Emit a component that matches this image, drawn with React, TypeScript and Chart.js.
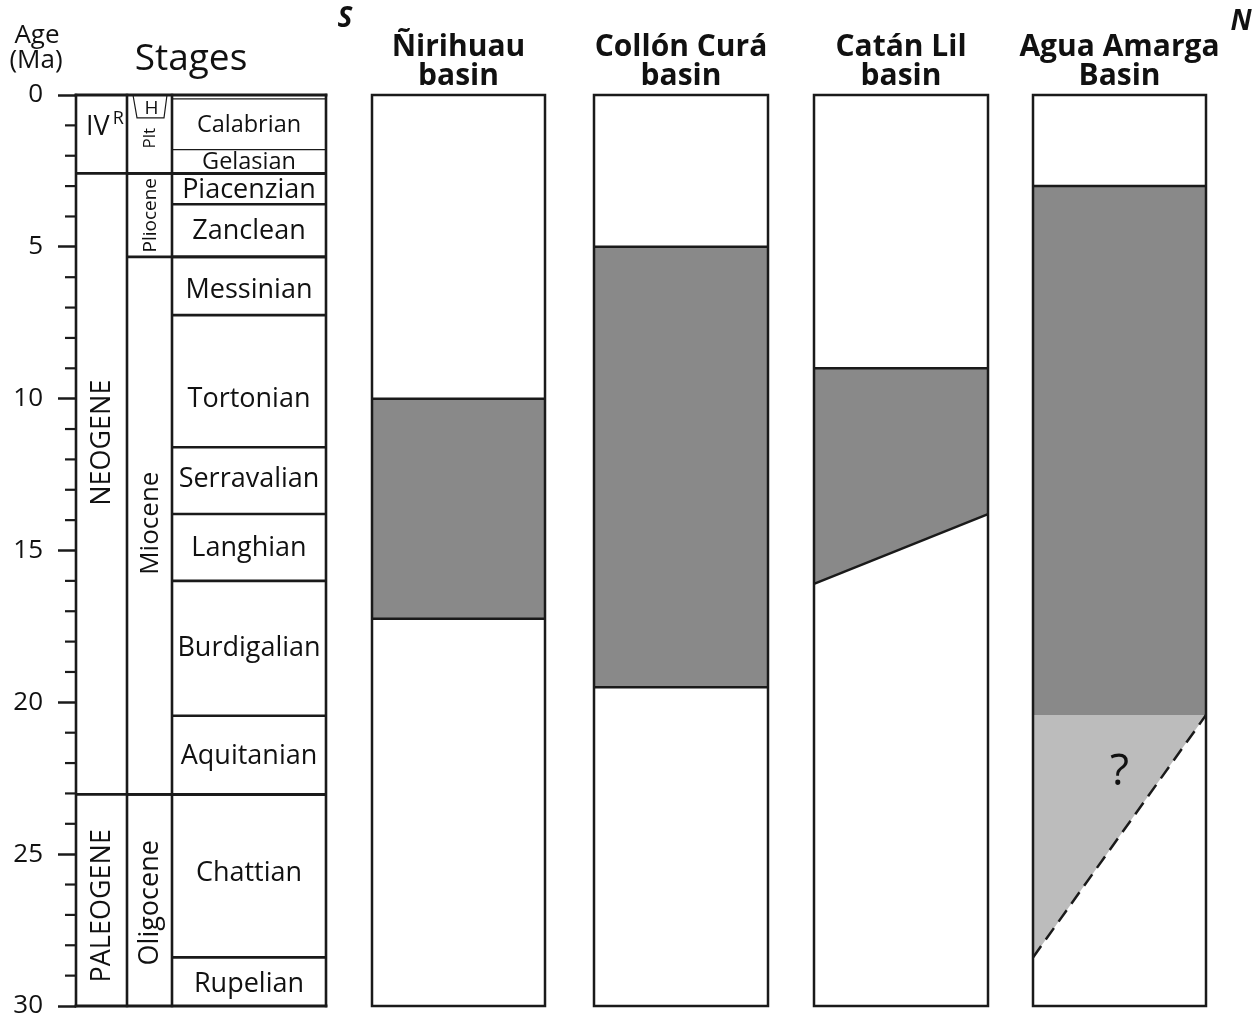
import React, { useEffect, useRef } from "react";
import { Chart, registerables } from "chart.js";

Chart.register(...registerables);

// ---------------- data ----------------
const ageMin = 0;
const ageMax = 30;
const majorStep = 5;
const minorStep = 1;

const stageNames = [
  "Calabrian", "Gelasian", "Piacenzian", "Zanclean", "Messinian", "Tortonian",
  "Serravalian", "Langhian", "Burdigalian", "Aquitanian", "Chattian", "Rupelian",
];
const stageTops = [0.13, 1.8, 2.58, 3.6, 5.33, 7.25, 11.6, 13.8, 16.0, 20.44, 23.03, 28.4];
const stageBases = [1.8, 2.58, 3.6, 5.33, 7.25, 11.6, 13.8, 16.0, 20.44, 23.03, 28.4, 30];

const epochNames = ["Plt", "Pliocene", "Miocene", "Oligocene"];
const epochTops = [0, 2.58, 5.33, 23.03];
const epochBases = [2.58, 5.33, 23.03, 30];

const holoceneName = "H";
const holoceneBase = 0.75;

const eraNames = ["IV", "NEOGENE", "PALEOGENE"];
const eraSuperscripts = ["R", "", ""];
const eraTops = [0, 2.58, 23.03];
const eraBases = [2.58, 23.03, 30];

const basinNames = [
  ["Ñirihuau", "basin"],
  ["Collón Curá", "basin"],
  ["Catán Lil", "basin"],
  ["Agua Amarga", "Basin"],
];
const unitTopWest = [10.0, 5.0, 9.0, 3.0];
const unitTopEast = [10.0, 5.0, 9.0, 3.0];
const unitBaseWest = [17.25, 19.5, 16.1, 20.42];
const unitBaseEast = [17.25, 19.5, 13.8, 20.42];
const uncertainBaseWest = [null, null, null, 28.4];
const uncertainBaseEast = [null, null, null, 20.42];
const uncertainLabel = "?";
const southLabel = "S";
const northLabel = "N";
const ageTitle = ["Age", "(Ma)"];
const stagesTitle = "Stages";

// ---------------- layout / style (not data) ----------------
const X_MAX = 1174;
const COL_ERA = [0, 51];
const COL_EPOCH = [51, 96];
const COL_STAGE = [96, 250];
const BASIN_COLS = [
  [296, 469],
  [518, 692],
  [738, 912],
  [957, 1130],
];
// pixel nudges of stage labels from the centre of their interval
const STAGE_LABEL_NUDGE = [0, 0, 0, 0, 3, 17, -2, 0, -1, 0, -4, 2];
const EPOCH_LABEL_AT = [1.42, 3.96, 14.1, 26.6];
const EPOCH_LABEL_SIZE = [17, 19, 26, 27];
const ERA_LABEL_AT = [0, 11.45, 26.7];
const UNCERTAIN_LABEL_AT = 22.3;

const FONT = "'Open Sans', 'Noto Sans', sans-serif";
const LINE = "#1a1a1a";
const TEXT = "#111111";
const DARK = "#898989";
const LIGHT = "#bcbcbc";

function buildDatasets() {
  const ds: any[] = [];
  basinNames.forEach((_, i) => {
    const [L, R] = BASIN_COLS[i];
    const common = { pointRadius: 0, pointHoverRadius: 0, tension: 0, borderWidth: 2.5 };
    ds.push({
      ...common,
      data: [{ x: L, y: unitTopWest[i] }, { x: R, y: unitTopEast[i] }],
      borderColor: LINE,
      fill: false,
    });
    const hasUnc = uncertainBaseWest[i] != null;
    ds.push({
      ...common,
      data: [{ x: L, y: unitBaseWest[i] }, { x: R, y: unitBaseEast[i] }],
      borderColor: hasUnc ? "rgba(0,0,0,0)" : LINE,
      backgroundColor: DARK,
      fill: "-1",
    });
    if (hasUnc) {
      ds.push({
        ...common,
        data: [{ x: L, y: uncertainBaseWest[i] }, { x: R, y: uncertainBaseEast[i] }],
        borderColor: LINE,
        borderDash: [14, 8],
        backgroundColor: LIGHT,
        fill: "-1",
      });
    }
  });
  return ds;
}

const stratPlugin = {
  id: "stratDraw",
  afterDatasetsDraw(chart: any) {
    const ctx: CanvasRenderingContext2D = chart.ctx;
    const xs = chart.scales.x;
    const ys = chart.scales.y;
    const X = (u: number) => xs.getPixelForValue(u);
    const Y = (a: number) => ys.getPixelForValue(a);
    const top = chart.chartArea.top;
    ctx.save();
    ctx.strokeStyle = LINE;
    ctx.fillStyle = TEXT;
    ctx.lineCap = "butt";
    const seg = (x1: number, y1: number, x2: number, y2: number, w: number) => {
      ctx.lineWidth = w;
      ctx.beginPath();
      ctx.moveTo(x1, y1);
      ctx.lineTo(x2, y2);
      ctx.stroke();
    };

    // minor ticks
    for (let a = ageMin; a <= ageMax; a += minorStep) {
      if (a % majorStep !== 0) seg(X(COL_ERA[0]) - 11, Y(a), X(COL_ERA[0]), Y(a), 2.2);
    }

    // basin columns
    BASIN_COLS.forEach(([L, R]) => {
      ctx.lineWidth = 2.5;
      ctx.strokeRect(X(L), Y(ageMin), X(R) - X(L), Y(ageMax) - Y(ageMin));
    });

    // stage boundaries
    stageTops.forEach((a) => {
      if (a <= ageMin) return;
      const thin = a < eraBases[0];
      seg(X(COL_STAGE[0]), Y(a), X(COL_STAGE[1]), Y(a), thin ? 1.2 : 2.6);
    });
    epochTops.forEach((a) => {
      if (a <= ageMin) return;
      seg(X(COL_EPOCH[0]), Y(a), X(COL_STAGE[1]), Y(a), 2.6);
    });
    eraTops.forEach((a) => {
      if (a <= ageMin) return;
      seg(X(COL_ERA[0]), Y(a), X(COL_STAGE[1]), Y(a), 2.8);
    });
    // holocene trapezoid
    ctx.lineWidth = 1.2;
    ctx.beginPath();
    ctx.moveTo(X(COL_EPOCH[0] + 6), Y(ageMin));
    ctx.lineTo(X(COL_EPOCH[0] + 10), Y(holoceneBase));
    ctx.lineTo(X(COL_EPOCH[0] + 37), Y(holoceneBase));
    ctx.lineTo(X(COL_EPOCH[0] + 40), Y(ageMin));
    ctx.stroke();

    // table frame
    ctx.lineCap = "square";
    [COL_ERA[0], COL_EPOCH[0], COL_STAGE[0], COL_STAGE[1]].forEach((u) =>
      seg(X(u), Y(ageMin), X(u), Y(ageMax), 2.6)
    );
    seg(X(COL_ERA[0]), Y(ageMin), X(COL_STAGE[1]), Y(ageMin), 2.8);
    seg(X(COL_ERA[0]), Y(ageMax), X(COL_STAGE[1]), Y(ageMax), 2.8);
    ctx.lineCap = "butt";

    // stage labels
    ctx.textAlign = "center";
    ctx.textBaseline = "middle";
    stageNames.forEach((n, i) => {
      const size = stageBases[i] <= eraBases[0] ? 23.5 : 27;
      ctx.font = `${size}px ${FONT}`;
      ctx.fillText(
        n,
        X((COL_STAGE[0] + COL_STAGE[1]) / 2),
        Y((stageTops[i] + stageBases[i]) / 2) + 1 + STAGE_LABEL_NUDGE[i]
      );
    });

    // rotated text helper
    const vtext = (t: string, cx: number, cy: number, size: number) => {
      ctx.save();
      ctx.translate(cx, cy);
      ctx.rotate(-Math.PI / 2);
      ctx.font = `${size}px ${FONT}`;
      ctx.textAlign = "center";
      ctx.textBaseline = "middle";
      ctx.fillText(t, 0, 0);
      ctx.restore();
    };

    // epochs
    epochNames.forEach((n, i) => {
      vtext(n, X((COL_EPOCH[0] + COL_EPOCH[1]) / 2) + 1, Y(EPOCH_LABEL_AT[i]), EPOCH_LABEL_SIZE[i]);
    });
    // holocene
    ctx.font = `19px ${FONT}`;
    ctx.textAlign = "center";
    ctx.textBaseline = "alphabetic";
    ctx.fillText(holoceneName, X((COL_EPOCH[0] + COL_EPOCH[1]) / 2) + 2, Y(holoceneBase) - 4);

    // eras
    eraNames.forEach((n, i) => {
      if (eraSuperscripts[i]) {
        ctx.textAlign = "left";
        ctx.textBaseline = "alphabetic";
        ctx.font = `27px ${FONT}`;
        const x0 = X(COL_ERA[0] + 10);
        const base = Y(eraTops[i]) + 40;
        ctx.fillText(n, x0, base);
        const w = ctx.measureText(n).width;
        ctx.font = `18px ${FONT}`;
        ctx.fillText(eraSuperscripts[i], x0 + w + 3, base - 11);
      } else {
        vtext(n, X((COL_ERA[0] + COL_ERA[1]) / 2) + 1, Y(ERA_LABEL_AT[i]), 27);
      }
    });

    // uncertain label
    BASIN_COLS.forEach(([L, R], i) => {
      if (uncertainBaseWest[i] == null) return;
      ctx.font = `44px ${FONT}`;
      ctx.textAlign = "center";
      ctx.textBaseline = "middle";
      ctx.fillText(uncertainLabel, X((L + R) / 2), Y(UNCERTAIN_LABEL_AT));
    });

    // basin titles
    ctx.textAlign = "center";
    ctx.textBaseline = "alphabetic";
    ctx.font = `bold 30px ${FONT}`;
    basinNames.forEach((lines, i) => {
      const [L, R] = BASIN_COLS[i];
      const cx = X((L + R) / 2);
      ctx.fillText(lines[0], cx, top - 39);
      ctx.fillText(lines[1], cx, top - 10);
    });

    // S / N
    ctx.font = `italic bold 28px ${FONT}`;
    ctx.fillText(southLabel, X(269), top - 68);
    ctx.fillText(northLabel, X(1165), top - 65);

    // Age (Ma), Stages
    ctx.font = `26px ${FONT}`;
    ctx.fillText(ageTitle[0], X(COL_ERA[0]) - 39, top - 52);
    ctx.fillText(ageTitle[1], X(COL_ERA[0]) - 40, top - 27);
    ctx.font = `37px ${FONT}`;
    ctx.fillText(stagesTitle, X(115), top - 25);

    ctx.restore();
  },
};

export default function App() {
  const ref = useRef<HTMLCanvasElement>(null);
  useEffect(() => {
    if (!ref.current) return;
    const chart = new Chart(ref.current, {
      type: "line",
      data: { datasets: buildDatasets() },
      options: {
        responsive: false,
        animation: false,
        devicePixelRatio: 1,
        events: [],
        layout: { padding: { top: 95, bottom: 9, left: 0, right: 8 } },
        plugins: {
          legend: { display: false },
          tooltip: { enabled: false },
          filler: { drawTime: "beforeDatasetsDraw" },
        },
        scales: {
          x: { type: "linear", display: false, min: 0, max: X_MAX },
          y: {
            type: "linear",
            position: "left",
            reverse: true,
            min: ageMin,
            max: ageMax,
            afterFit: (s: any) => {
              s.width = 76;
              s.paddingTop = 0;
              s.paddingBottom = 0;
            },
            ticks: {
              stepSize: majorStep,
              padding: 15,
              color: TEXT,
              font: { family: FONT, size: 26 },
            },
            grid: {
              drawOnChartArea: false,
              drawTicks: true,
              tickLength: 18,
              tickWidth: 2.5,
              tickColor: LINE,
            },
            border: { display: false },
          },
        },
      } as any,
      plugins: [stratPlugin],
    });
    return () => chart.destroy();
  }, []);
  return (
    <div style={{ position: "absolute", left: 0, top: 0, width: 1258, height: 1015, background: "#fff" }}>
      <canvas ref={ref} width={1258} height={1015} style={{ display: "block", width: 1258, height: 1015 }} />
    </div>
  );
}
